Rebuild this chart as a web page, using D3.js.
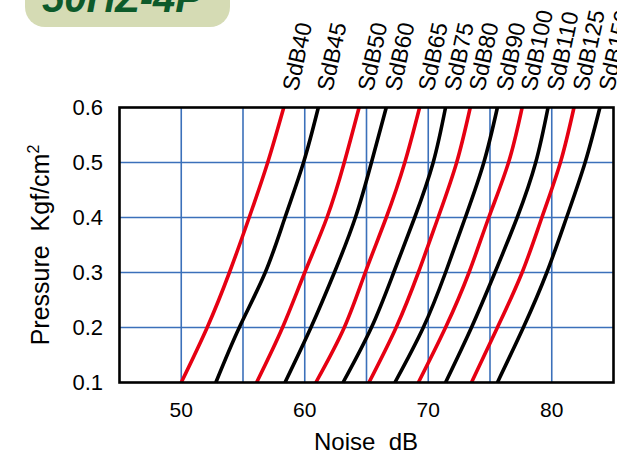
<!DOCTYPE html>
<html>
<head>
<meta charset="utf-8">
<script src="https://cdn.jsdelivr.net/npm/d3@7"></script>
<style>
  body { margin: 0; background: #fff; }
  text { font-family: "Liberation Sans", Arial, sans-serif; }
</style>
</head>
<body>
<script>
const width = 617;
const height = 456;

// pressure levels where each curve was read
const pressures = [0.1, 0.2, 0.3, 0.4, 0.5, 0.6];

const curveNames = ["SdB40", "SdB45", "SdB50", "SdB60", "SdB65", "SdB75",
  "SdB80", "SdB90", "SdB100", "SdB110", "SdB125", "SdB150"];
const curveColors = ["red", "black", "red", "black", "red", "black",
  "red", "black", "red", "black", "red", "black"];

// noise dB at each pressure level (0.1 .. 0.6)
const sdb40 = [50.0, 52.1, 53.9, 55.5, 57.0, 58.3];
const sdb45 = [52.8, 54.7, 56.8, 58.4, 59.9, 61.1];
const sdb50 = [56.1, 58.2, 60.0, 61.8, 63.2, 64.4];
const sdb60 = [58.4, 60.5, 62.4, 64.1, 65.4, 66.6];
const sdb65 = [60.9, 63.2, 64.9, 66.6, 68.1, 69.3];
const sdb75 = [63.1, 65.4, 67.2, 68.9, 70.4, 71.4];
const sdb80 = [65.2, 67.4, 69.2, 70.8, 72.3, 73.4];
const sdb90 = [67.3, 69.6, 71.4, 73.0, 74.5, 75.6];
const sdb100 = [69.2, 71.4, 73.3, 74.9, 76.5, 77.6];
const sdb110 = [71.4, 73.5, 75.4, 77.2, 78.7, 79.7];
const sdb125 = [73.5, 75.6, 77.6, 79.2, 80.7, 81.8];
const sdb150 = [75.6, 77.7, 79.6, 81.2, 82.7, 83.9];
const curveValues = [sdb40, sdb45, sdb50, sdb60, sdb65, sdb75,
  sdb80, sdb90, sdb100, sdb110, sdb125, sdb150];

const xTickLabels = [50, 60, 70, 80];
const xGrid = [50, 55, 60, 65, 70, 75, 80];
const yTicks = [0.1, 0.2, 0.3, 0.4, 0.5, 0.6];
const yGrid = [0.2, 0.3, 0.4, 0.5];

const badgeText = "50HZ-4P";

const plot = { left: 119.5, right: 613.5, top: 107.5, bottom: 382.5 };

const x = d3.scaleLinear().domain([45, 85]).range([plot.left, plot.right]);
const y = d3.scaleLinear().domain([0.1, 0.6]).range([plot.bottom, plot.top]);

const svg = d3.select("body").append("svg")
  .attr("width", width)
  .attr("height", height);

// title badge, cut off by the top edge
svg.append("rect")
  .attr("x", 25).attr("y", -40)
  .attr("width", 205).attr("height", 67)
  .attr("rx", 20)
  .attr("fill", "#d5dbb4");
svg.append("text")
  .attr("x", 122).attr("y", 12)
  .attr("text-anchor", "middle")
  .attr("font-size", 40)
  .attr("font-weight", "bold")
  .attr("font-style", "italic")
  .attr("fill", "#0d5a2a")
  .text(badgeText);

// grid
svg.append("g").selectAll("line").data(xGrid).join("line")
  .attr("x1", d => x(d)).attr("x2", d => x(d))
  .attr("y1", plot.top).attr("y2", plot.bottom)
  .attr("stroke", "#3b70ba").attr("stroke-width", 1.6);
svg.append("g").selectAll("line").data(yGrid).join("line")
  .attr("x1", plot.left).attr("x2", plot.right)
  .attr("y1", d => y(d)).attr("y2", d => y(d))
  .attr("stroke", "#3b70ba").attr("stroke-width", 1.6);

// curves
const line = d3.line()
  .x(d => x(d[0]))
  .y(d => y(d[1]))
  .curve(d3.curveNatural);

svg.append("g").selectAll("path").data(curveValues).join("path")
  .attr("d", vals => line(vals.map((v, i) => [v, pressures[i]])))
  .attr("fill", "none")
  .attr("stroke", (d, i) => curveColors[i] === "red" ? "#e60012" : "#000")
  .attr("stroke-width", 3.6);

// frame
svg.append("rect")
  .attr("x", plot.left).attr("y", plot.top)
  .attr("width", plot.right - plot.left)
  .attr("height", plot.bottom - plot.top)
  .attr("fill", "none")
  .attr("stroke", "#000").attr("stroke-width", 2.6);

// curve labels
svg.append("g").selectAll("text").data(curveNames).join("text")
  .attr("transform", (d, i) => `translate(${x(curveValues[i][5]) + 14},92) rotate(-78)`)
  .attr("font-size", 23)
  .attr("fill", "#000")
  .text(d => d);

// tick labels
svg.append("g").selectAll("text").data(xTickLabels).join("text")
  .attr("x", d => x(d)).attr("y", 417)
  .attr("text-anchor", "middle")
  .attr("font-size", 21)
  .text(d => d);
svg.append("g").selectAll("text").data(yTicks).join("text")
  .attr("x", 103).attr("y", d => y(d) + 7)
  .attr("text-anchor", "end")
  .attr("font-size", 22)
  .text(d => d.toFixed(1));

// axis titles
svg.append("text")
  .attr("x", 366).attr("y", 450)
  .attr("text-anchor", "middle")
  .attr("font-size", 24)
  .style("white-space", "pre")
  .text("Noise  dB");

const yt = svg.append("text")
  .attr("transform", "translate(49,245) rotate(-90)")
  .attr("text-anchor", "middle")
  .attr("font-size", 25)
  .style("white-space", "pre");
yt.append("tspan").text("Pressure  Kgf/cm");
yt.append("tspan").attr("font-size", 16).attr("dy", -10).text("2");
</script>
</body>
</html>
